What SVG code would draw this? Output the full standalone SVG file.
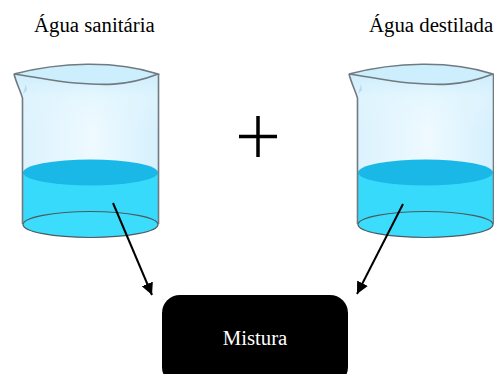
<svg xmlns="http://www.w3.org/2000/svg" xmlns:xlink="http://www.w3.org/1999/xlink" width="494" height="374" viewBox="0 0 494 374">
<style>
text{font-family:"Liberation Serif","Times New Roman",serif;font-size:20.800px;fill:#000}
.edge{stroke:#000;stroke-width:2;fill:none;marker-end:url(#head)}
.outline{fill:none;stroke:#6f7b80;stroke-width:1.6}
.ring{stroke:#4d5a60;stroke-width:1.2}
</style>
<defs>
<marker id="head" markerUnits="userSpaceOnUse" markerWidth="14" markerHeight="14" refX="12" refY="6" orient="auto">
<path d="M0 0L12 6L0 12z" fill="#000"/>
</marker>
<linearGradient id="glass" x1="0" y1="0" x2="1" y2="0">
<stop offset="0" stop-color="#d9f1fd"/><stop offset=".55" stop-color="#eefaff"/><stop offset="1" stop-color="#d5f0fd"/>
</linearGradient>
<linearGradient id="fade" x1="0" y1="0" x2="0" y2="1">
<stop offset="0" stop-color="#c4e9fb"/><stop offset=".5" stop-color="#e0f5fe" stop-opacity=".6"/><stop offset="1" stop-color="#e6f6fe" stop-opacity="0"/>
</linearGradient>
<g id="beaker">
<path d="M14 74C60 62 115 60 158 74L158 226H23V98C20 90 16 82 14 74z" fill="url(#glass)"/>
<path d="M14 74C60 62 115 60 158 74L158 130H23V98C20 90 16 82 14 74z" fill="url(#fade)"/>
<path d="M23 172H158V226H23z" fill="#38dafb"/>
<ellipse cx="90.500" cy="172.500" rx="67.500" ry="13" fill="#1ab8e6"/>
<ellipse cx="90.500" cy="224.500" rx="67.500" ry="13" fill="#3cdcfc" class="ring"/>
<path d="M14 74C60 62 115 60 158 74C125 87 100 85 75 83C52 81 30 76 14 74z" fill="#cdeefd"/>
<path class="outline" d="M14 74C60 62 115 60 158 74C125 87 100 85 75 83C52 81 30 76 14 74z"/>
<path class="outline" d="M14 74C16 82 20 90 22.500 98V224M158.500 74V224"/>
<path d="M26 84L23 94L27 90z" fill="#b4dcf6"/>
</g>
</defs>
<g id="node-agua-sanitaria">
<use xlink:href="#beaker" href="#beaker"/>
<text x="34" y="32">Água sanitária</text>
</g>
<g id="node-agua-destilada">
<use xlink:href="#beaker" href="#beaker" x="335"/>
<text x="369" y="32">Água destilada</text>
</g>
<g id="node-plus">
<path d="M258 116V157M239 136.500H277" stroke="#000" stroke-width="3.500" fill="none"/>
</g>
<g id="node-mistura">
<rect x="162" y="295" width="186" height="90" rx="18" fill="#000"/>
<text x="255" y="345" text-anchor="middle" style="fill:#fff">Mistura</text>
</g>
<g id="connectors">
<path class="edge" d="M113 203L152 295"/>
<path class="edge" d="M403 204L357 294"/>
</g>
</svg>
